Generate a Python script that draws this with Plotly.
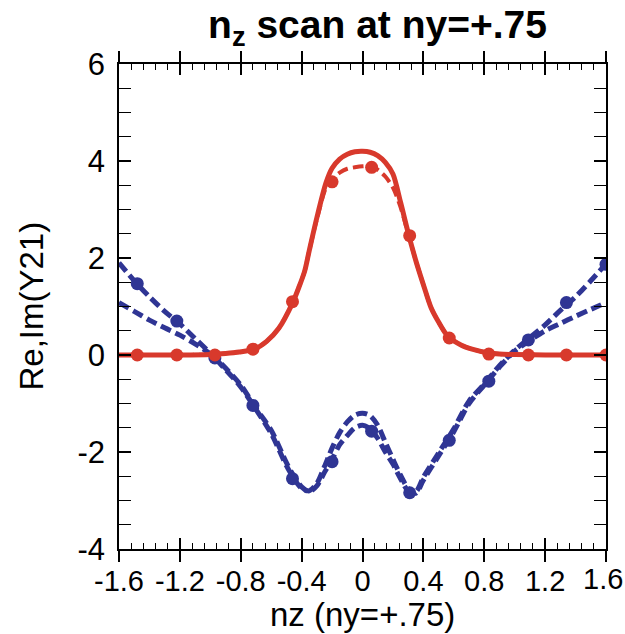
import plotly.graph_objects as go

# --- data ---
nz_re = [-1.6, -1.2, -1.0, -0.9, -0.81, -0.71, -0.63, -0.55, -0.46, -0.42, -0.38, -0.35, -0.3, -0.24, -0.2, -0.15,
         -0.1, -0.05, 0.0, 0.05, 0.1, 0.15, 0.2, 0.25, 0.3, 0.35, 0.4, 0.45, 0.5, 0.56, 0.65, 0.72, 0.83, 0.9, 1.0, 1.2, 1.6]
re_solid = [0.0, 0.0, 0.01, 0.03, 0.06, 0.12, 0.28, 0.55, 1.07, 1.38, 1.73, 2.15, 2.83, 3.55, 3.85, 4.04,
            4.14, 4.19, 4.2, 4.18, 4.11, 3.97, 3.73, 3.15, 2.52, 1.95, 1.45, 0.98, 0.68, 0.39, 0.2, 0.12, 0.04, 0.02, 0.01, 0.0, 0.0]
re_dash = [0.0, 0.0, 0.01, 0.03, 0.06, 0.12, 0.28, 0.55, 1.07, 1.38, 1.73, 2.15, 2.8, 3.45, 3.62, 3.76,
           3.84, 3.87, 3.89, 3.89, 3.82, 3.68, 3.45, 3.05, 2.5, 1.95, 1.45, 0.98, 0.68, 0.39, 0.2, 0.12, 0.04, 0.02, 0.01, 0.0, 0.0]

nz_im = [-1.6, -1.5, -1.4, -1.3, -1.2, -1.1, -1.0, -0.9, -0.8, -0.7, -0.6, -0.5, -0.45, -0.4, -0.35, -0.3,
         -0.25, -0.2, -0.15, -0.1, -0.05, 0.0, 0.05, 0.1, 0.15, 0.2, 0.25, 0.3, 0.35, 0.4, 0.5, 0.6, 0.7,
         0.8, 0.9, 1.0, 1.1, 1.2, 1.3, 1.4, 1.5, 1.6]
im_a = [1.9, 1.53, 1.2, 0.9, 0.64, 0.34, 0.04, -0.27, -0.62, -1.1, -1.55, -2.22, -2.5, -2.72, -2.82, -2.7,
        -2.42, -2.15, -1.85, -1.66, -1.5, -1.45, -1.52, -1.72, -2.0, -2.25, -2.55, -2.8, -2.82, -2.52, -2.02, -1.52, -0.95,
        -0.6, -0.22, 0.1, 0.36, 0.62, 0.92, 1.2, 1.53, 1.88]
im_b = [1.08, 0.9, 0.72, 0.56, 0.41, 0.23, 0.02, -0.3, -0.66, -1.12, -1.62, -2.28, -2.55, -2.75, -2.8, -2.65,
        -2.3, -1.92, -1.6, -1.38, -1.24, -1.2, -1.25, -1.45, -1.8, -2.15, -2.48, -2.75, -2.85, -2.58, -2.08, -1.58, -1.0,
        -0.62, -0.25, 0.08, 0.3, 0.5, 0.65, 0.8, 0.94, 1.08]

nz_pts = [-1.48, -1.22, -0.97, -0.72, -0.46, -0.2, 0.06, 0.31, 0.57, 0.83, 1.09, 1.34, 1.6]
re_pts = [0.0, 0.0, 0.0, 0.12, 1.1, 3.57, 3.87, 2.46, 0.35, 0.02, 0.0, 0.0, 0.0]
im_pts = [1.47, 0.7, -0.06, -1.04, -2.55, -2.2, -1.57, -2.84, -1.76, -0.54, 0.31, 1.08, 1.87]

x_ticks = [-1.6, -1.2, -0.8, -0.4, 0, 0.4, 0.8, 1.2, 1.6]
x_labels = ["-1.6", "-1.2", "-0.8", "-0.4", "0", "0.4", "0.8", "1.2", "1.6"]
y_ticks = [-4, -2, 0, 2, 4, 6]
y_labels = ["-4", "-2", "0", "2", "4", "6"]

RED = "#d8392c"
BLUE = "#2f3594"
FONT = "Liberation Sans, Arial, sans-serif"

ML, MR, MT, MB = 119, 19, 64, 85
PH = 634 - MT - MB

fig = go.Figure()
fig.add_trace(go.Scatter(x=nz_im, y=im_a, mode="lines", line=dict(color=BLUE, width=5, dash="11px,5px", shape="spline", smoothing=0.8)))
fig.add_trace(go.Scatter(x=nz_im, y=im_b, mode="lines", line=dict(color=BLUE, width=5, dash="11px,5px", shape="spline", smoothing=0.8)))
fig.add_trace(go.Scatter(x=nz_re, y=re_dash, mode="lines", line=dict(color=RED, width=4, dash="11px,5px", shape="spline", smoothing=0.8)))
fig.add_trace(go.Scatter(x=nz_re, y=re_solid, mode="lines", line=dict(color=RED, width=5, shape="spline", smoothing=0.8)))
fig.add_trace(go.Scatter(x=nz_pts, y=im_pts, mode="markers", marker=dict(color=BLUE, size=13)))
fig.add_trace(go.Scatter(x=nz_pts, y=re_pts, mode="markers", marker=dict(color=RED, size=13)))

# overlay axis to draw the outside halves of the major x ticks
fig.add_trace(go.Scatter(x=[-1.6, 1.6], y=[0, 0], xaxis="x2", mode="lines", line=dict(width=0), hoverinfo="skip"))

# last x tick label is drawn as an annotation so it does not push the right margin
shown_labels = x_labels[:-1] + [""]

fig.update_layout(
    width=625, height=634,
    margin=dict(l=ML, r=MR, t=MT, b=MB),
    paper_bgcolor="white", plot_bgcolor="white",
    showlegend=False,
    font=dict(family=FONT, size=30, color="black"),
    title=dict(text="<b>n<sub>z</sub> scan at ny=+.75</b>", x=0.604, xref="container", xanchor="center",
               y=1 - 11 / 634, yref="container", yanchor="top", font=dict(family=FONT, size=39, color="black")),
    xaxis=dict(range=[-1.6, 1.6], tickvals=x_ticks, ticktext=shown_labels, ticks="inside", ticklen=11, tickwidth=1.5,
               tickcolor="black", showline=True, linecolor="black", linewidth=1.5, mirror="allticks",
               showgrid=False, zeroline=False, ticklabelstandoff=5,
               minor=dict(dtick=0.08, tick0=-1.6, ticks="inside", ticklen=6, tickwidth=1, tickcolor="black"),
               tickfont=dict(size=29)),
    xaxis2=dict(range=[-1.6, 1.6], overlaying="x", side="bottom", tickvals=x_ticks, ticks="outside", ticklen=12,
                tickwidth=1.5, tickcolor="black", showticklabels=False, showline=False, mirror="allticks",
                showgrid=False, zeroline=False),
    yaxis=dict(range=[-4, 6], tickvals=y_ticks, ticktext=y_labels, ticks="inside", ticklen=12, tickwidth=1.5,
               tickcolor="black", showline=True, linecolor="black", linewidth=1.5, mirror="allticks",
               showgrid=False, zeroline=False, ticklabelstandoff=6, ticklabeloverflow="allow",
               minor=dict(dtick=0.5, ticks="inside", ticklen=7, tickwidth=1, tickcolor="black"),
               tickfont=dict(size=31)),
    annotations=[
        dict(text=x_labels[-1], x=x_ticks[-1], xref="x", xanchor="center", xshift=-3,
             y=-(579 - (MT + PH)) / PH, yref="paper", yanchor="middle", showarrow=False,
             font=dict(family=FONT, size=29, color="black")),
        dict(text="nz (ny=+.75)", x=0.5, xref="paper", y=-(594 - (MT + PH)) / PH, yref="paper", yanchor="top",
             showarrow=False, font=dict(family=FONT, size=33, color="black")),
        dict(text="Re,Im(Y21)", x=(31 - ML) / (625 - ML - MR), xref="paper", xanchor="center", y=0.5, yref="paper",
             showarrow=False, textangle=-90, font=dict(family=FONT, size=33, color="black")),
    ],
)

fig.write_html("out.html")
